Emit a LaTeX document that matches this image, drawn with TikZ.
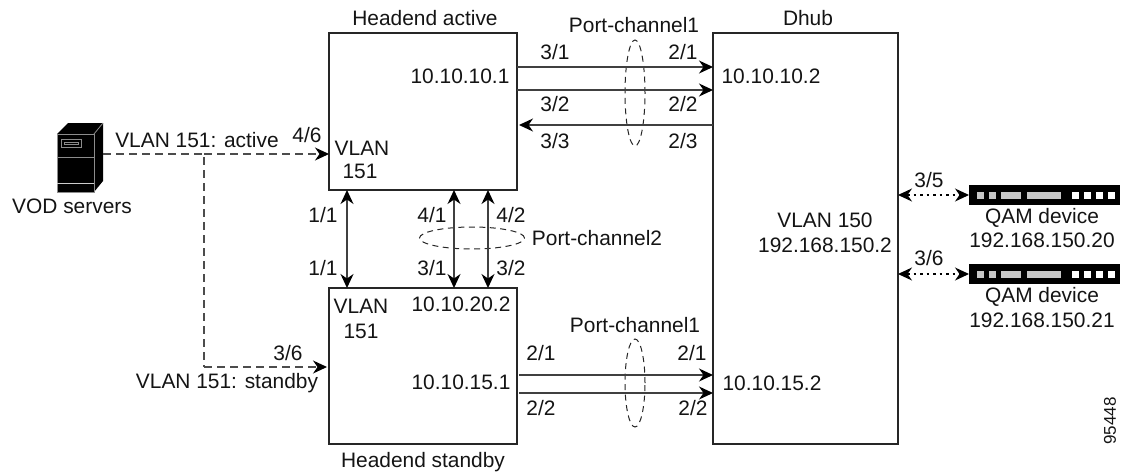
\documentclass[tikz,border=0pt]{standalone}
\usepackage{fontspec}
\setmainfont{Liberation Sans}
\usetikzlibrary{arrows.meta,shapes.geometric}
\tikzset{
  x=1pt,y=-1pt,
  tp/.tip={Stealth[length=14pt,width=13pt,inset=4.5pt,color=black]},
  lbl/.style={inner sep=0pt,font=\fontsize{20.9}{25}\selectfont,align=center,text=black!92},
  boxn/.style={draw=black!85,line width=1.4pt,inner sep=0pt,outer sep=0pt,anchor=north west},
  link/.style={draw=black!75,line width=1.3pt,-tp},
  both/.style={draw=black!75,line width=1.3pt,tp-tp},
  dots/.style={draw=black,line width=1.1pt,dash pattern=on 2.5pt off 4pt,tp-tp},
  dashln/.style={draw=black!70,line width=1.1pt,dash pattern=on 8pt off 5pt},
  ring/.style={draw=black!85,line width=1.0pt,dash pattern=on 6pt off 4.5pt,ellipse,inner sep=0pt,outer sep=0pt},
  qamn/.style={fill=black,minimum width=151pt,minimum height=20pt,inner sep=0pt,outer sep=0pt,anchor=north west},
}
\newcommand{\qamblocks}[1]{%
  \foreach \a/\b in {977/984,989/996,1001/1021,1027/1061}
    \fill[black!22] (\a,#1+7) rectangle (\b,#1+14);
  \foreach \a in {1072,1084,1096,1108}
    \fill[white] (\a,#1+7) rectangle (\a+7,#1+14);
}
\begin{document}
\begin{tikzpicture}
\useasboundingbox (0,0) rectangle (1124,472);
% boxes
\node[boxn,minimum width=188pt,minimum height=157pt] (ha) at (329,33) {};
\node[boxn,minimum width=188pt,minimum height=156pt] (hs) at (329,288) {};
\node[boxn,minimum width=185pt,minimum height=411pt] (dh) at (713,33) {};
% port-channel rings
\node[ring,minimum width=20pt,minimum height=106pt] (pc1a) at (635,93) {};
\node[ring,minimum width=105pt,minimum height=22pt] (pc2) at (472,238) {};
\node[ring,minimum width=20pt,minimum height=88pt] (pc1b) at (635,383) {};
% server
\node[inner sep=0pt,outer sep=0pt,minimum width=46pt,minimum height=69pt,anchor=north west] (vod) at (57,123) {};
\fill[black] (57,134) -- (68,123) -- (103,123) -- (103,181) -- (94,192) -- (57,192) -- cycle;
\draw[black!45,line width=.8pt] (57,134) rectangle (94,192);
\draw[black!45,line width=.8pt] (57,157) -- (94,157);
\draw[white!80!black,line width=.9pt] (57,183) -- (94,183);
\draw[black!45,line width=.8pt] (94,134) -- (103,123);
\draw[black!45,line width=.8pt] (61,139) rectangle (81,147);
\draw[black!45,line width=.8pt] (64,142) rectangle (78,144.5);
% QAM
\node[qamn] (q1) at (969,185) {};
\node[qamn] (q2) at (969,264) {};
\qamblocks{185}
\qamblocks{264}
% connectors
\draw[link] (ha.east |- 0,67) -- (dh.west |- 0,67);
\draw[link] (ha.east |- 0,90) -- (dh.west |- 0,90);
\draw[link] (dh.west |- 0,125) -- ([xshift=2pt]ha.east |- 0,125);
\draw[link] ([xshift=2pt]hs.east |- 0,375) -- (dh.west |- 0,375);
\draw[link] ([xshift=2pt]hs.east |- 0,393) -- (dh.west |- 0,393);
\draw[both] (347,0 |- ha.south) -- (347,0 |- hs.north);
\draw[both] (454,0 |- ha.south) -- (454,0 |- hs.north);
\draw[both] (488,0 |- ha.south) -- (488,0 |- hs.north);
\draw[dots] (dh.east |- q1.west) -- (q1.west);
\draw[dots] (dh.east |- q2.west) -- (q2.west);
% dashed
\coordinate (jn) at (204,154);
\coordinate (kn) at (204,367);
\draw[dashln] (vod.east |- jn) -- (jn) -- (kn);
\draw[dashln,-tp] (jn) -- (ha.west |- jn);
\draw[dashln,-tp] (kn) -- ([xshift=-2pt]hs.west |- kn);
% labels
\node[lbl] (t1) at (425,18) {Headend active};
\node[lbl] (t2) at (634,25) {Port-channel1};
\node[lbl] (t3) at (808,18) {Dhub};
\node[lbl] (t4) at (555,52) {3/1};
\node[lbl] (t5) at (683,52) {2/1};
\node[lbl] (t6) at (460,76) {10.10.10.1};
\node[lbl] (t7) at (771,76) {10.10.10.2};
\node[lbl] (t8) at (555,104) {3/2};
\node[lbl] (t9) at (683,104) {2/2};
\node[lbl] (t10) at (555,141) {3/3};
\node[lbl] (t11) at (683,141) {2/3};
\node[lbl] (t12) at (362,148) {VLAN};
\node[lbl] (t13) at (360,171) {151};
\node[lbl] (t14) at (307,135) {4/6};
\node[lbl] (t15) at (197,140) {VLAN 151: active};
\node[lbl] (t16) at (72,206) {VOD servers};
\node[lbl] (t17) at (323,215) {1/1};
\node[lbl] (t18) at (323,268) {1/1};
\node[lbl] (t19) at (432,215) {4/1};
\node[lbl] (t20) at (511,215) {4/2};
\node[lbl] (t21) at (432,268) {3/1};
\node[lbl] (t22) at (511,268) {3/2};
\node[lbl] (t23) at (597,238) {Port-channel2};
\node[lbl] (t24) at (361,306) {VLAN};
\node[lbl] (t25) at (361,331) {151};
\node[lbl] (t26) at (461,304) {10.10.20.2};
\node[lbl] (t27) at (635,325) {Port-channel1};
\node[lbl] (t28) at (541,353) {2/1};
\node[lbl] (t29) at (692,353) {2/1};
\node[lbl] (t30) at (461,382) {10.10.15.1};
\node[lbl] (t31) at (772,383) {10.10.15.2};
\node[lbl] (t32) at (541,408) {2/2};
\node[lbl] (t33) at (693,408) {2/2};
\node[lbl] (t34) at (423,462) {Headend standby};
\node[lbl] (t35) at (227,383) {VLAN 151: standby};
\node[lbl] (t36) at (288,353) {3/6};
\node[lbl] (t37) at (825,220) {VLAN 150};
\node[lbl] (t38) at (825,245) {192.168.150.2};
\node[lbl] (t39) at (929,180) {3/5};
\node[lbl] (t40) at (929,258) {3/6};
\node[lbl] (t41) at (1042,218) {QAM device};
\node[lbl] (t42) at (1042,240) {192.168.150.20};
\node[lbl] (t43) at (1042,297) {QAM device};
\node[lbl] (t44) at (1042,320) {192.168.150.21};
\node[lbl,font=\fontsize{17}{20}\selectfont,rotate=90] (t45) at (1110,421) {95448};
\end{tikzpicture}
\end{document}
